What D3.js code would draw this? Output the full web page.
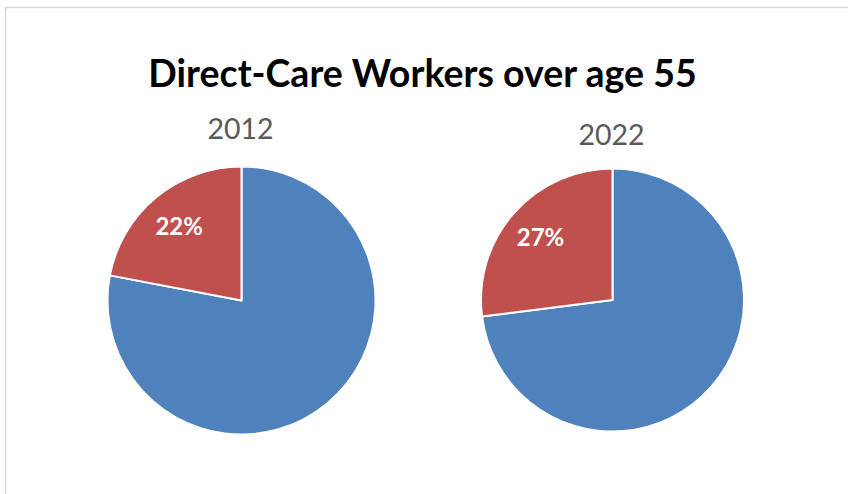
<!DOCTYPE html>
<html>
<head>
<meta charset="utf-8">
<script src="https://cdn.jsdelivr.net/npm/d3@7"></script>
<style>
  html, body { margin: 0; padding: 0; background: #fff; }
  svg { display: block; }
</style>
</head>
<body>
<svg id="chart" width="848" height="494"></svg>
<script>
// Share of direct-care workers over age 55, by year
const years = ["2012", "2022"];
const over55 = [22, 27];
const under55 = [78, 73];
const segmentNames = ["Under 55", "Over 55"];

const chartTitle = "Direct-Care Workers over age 55";

// Layout for each pie panel
const panels = [
  { cx: 241.5, cy: 300.5, r: 134, titleY: 139 },
  { cx: 612.5, cy: 300,   r: 131.5, titleY: 145 }
];

const colors = d3.scaleOrdinal()
  .domain(segmentNames)
  .range(["#4F81BD", "#C0504D"]);

const svg = d3.select("#chart");

// chart area frame
svg.append("rect")
  .attr("x", 5.5).attr("y", 7.5)
  .attr("width", 900).attr("height", 600)
  .attr("fill", "#fff")
  .attr("stroke", "#D9D9D9")
  .attr("stroke-width", 1.5);

svg.append("text")
  .attr("x", 422.5).attr("y", 87)
  .attr("text-anchor", "middle")
  .attr("font-family", "Lato, 'Open Sans', sans-serif")
  .attr("font-weight", "bold")
  .attr("font-size", 37.5)
  .attr("fill", "#000")
  .text(chartTitle);

const pie = d3.pie().sort(null).value(d => d.value);

years.forEach((year, i) => {
  const p = panels[i];
  const data = [
    { name: segmentNames[0], value: under55[i] },
    { name: segmentNames[1], value: over55[i] }
  ];
  const arcs = pie(data);
  const arc = d3.arc().innerRadius(0).outerRadius(p.r);
  const labelArc = d3.arc().innerRadius(p.r * 0.73).outerRadius(p.r * 0.73);

  const g = svg.append("g").attr("transform", `translate(${p.cx},${p.cy})`);

  g.selectAll("path")
    .data(arcs)
    .join("path")
    .attr("d", arc)
    .attr("fill", d => colors(d.data.name))
    .attr("stroke", "#fff")
    .attr("stroke-width", 2)
    .attr("stroke-linejoin", "round");

  // percentage label on the over-55 slice
  const redArc = arcs[1];
  const [lx, ly] = labelArc.centroid(redArc);
  g.append("text")
    .attr("x", lx).attr("y", ly)
    .attr("text-anchor", "middle")
    .attr("dominant-baseline", "central")
    .attr("font-family", "Lato, 'Open Sans', sans-serif")
    .attr("font-weight", "bold")
    .attr("font-size", 24)
    .attr("fill", "#fff")
    .text(redArc.data.value + "%");

  svg.append("text")
    .attr("x", p.cx - 1).attr("y", p.titleY)
    .attr("text-anchor", "middle")
    .attr("font-family", "Lato, 'Open Sans', sans-serif")
    .attr("font-size", 28.5)
    .attr("fill", "#595959")
    .text(year);
});
</script>
</body>
</html>
